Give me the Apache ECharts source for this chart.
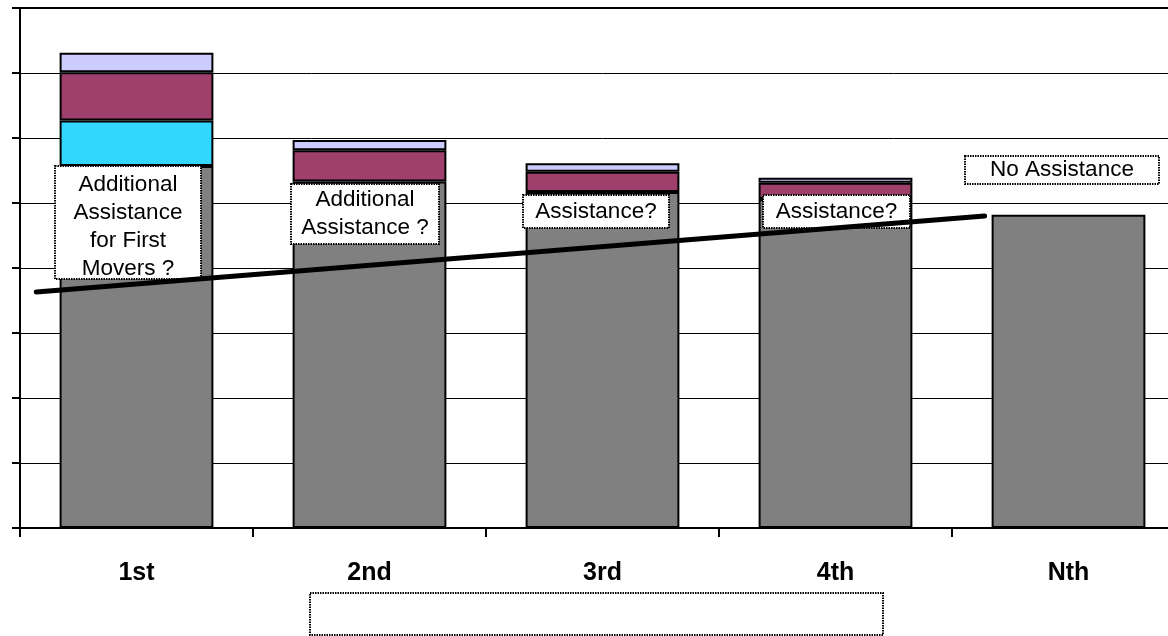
<!DOCTYPE html>
<html>
<head>
<meta charset="utf-8">
<script src="https://cdn.jsdelivr.net/npm/echarts@6/dist/echarts.min.js"></script>
<style>
  html, body { margin: 0; padding: 0; background: #fff; overflow: hidden; }
  #chart { width: 1190px; height: 636px; }
</style>
</head>
<body>
<div id="chart"></div>
<script>
// categories on the x axis
const categories = ['1st', '2nd', '3rd', '4th', 'Nth'];

// stacked bar segments (bottom to top)
const baseValues = [5.57, 5.33, 5.17, 5.06, 4.82];
const firstMoverValues = [0.70, null, null, null, null];
const assistValues = [0.74, 0.48, 0.31, 0.25, null];
const topValues = [0.30, 0.16, 0.13, 0.08, null];

// trend line, x in category units (0 = centre of 1st)
const trendLine = [[-0.43, 3.63], [3.64, 4.80]];

// annotation boxes
const noteTexts = [
    'Additional\nAssistance\nfor First\nMovers ?',
    'Additional\nAssistance ?',
    'Assistance?',
    'Assistance?',
    'No Assistance',
    ''
];
const noteBoxes = [
    [55, 166, 146, 113],
    [291, 184, 148, 60],
    [523, 195, 146, 33],
    [763, 195, 147, 33],
    [965, 156, 194, 28],
    [310, 593, 573, 42]
];

const font = '"Liberation Sans", Arial, sans-serif';
const chart = echarts.init(document.getElementById('chart'));

// build graphic elements for annotation boxes
const graphics = [];
noteBoxes.forEach((b, i) => {
    graphics.push({
        type: 'rect',
        z: 50,
        shape: { x: b[0], y: b[1], width: b[2], height: b[3] },
        style: { fill: i == 5 ? 'transparent' : '#fff', stroke: '#000', lineWidth: 2, lineDash: [1.5, 1] }
    });
    if (noteTexts[i]) {
        graphics.push({
            type: 'text',
            z: 51,
            x: b[0] + b[2] / 2,
            y: b[1] + b[3] / 2 + (i == 0 ? 4 : 0),
            style: {
                text: noteTexts[i],
                fill: '#000',
                font: '22.5px ' + font,
                lineHeight: 28,
                align: 'center',
                verticalAlign: 'middle'
            }
        });
    }
});

const barStyle = (color) => ({ color: color, borderColor: '#000', borderWidth: 2 });

const option = {
    animation: false,
    backgroundColor: '#fff',
    grid: { left: 20, top: 8, width: 1165, height: 520 },
    xAxis: [{
        type: 'category',
        data: categories,
        axisLine: { show: true, onZero: false, lineStyle: { color: '#000', width: 2 } },
        axisTick: { show: true, length: 9, lineStyle: { color: '#000', width: 2 } },
        axisLabel: { color: '#000', fontFamily: font, fontWeight: 'bold', fontSize: 25, margin: 33 },
        splitLine: { show: false }
    }, {
        // hidden value axis used for the trend line, also draws the top frame
        type: 'value',
        position: 'top',
        min: -0.5,
        max: 4.5,
        axisLine: { show: true, onZero: false, lineStyle: { color: '#000', width: 2 } },
        axisTick: { show: false },
        axisLabel: { show: false },
        splitLine: { show: false }
    }],
    yAxis: {
        type: 'value',
        min: 0,
        max: 8,
        interval: 1,
        axisLine: { show: true, onZero: false, lineStyle: { color: '#000', width: 2 } },
        axisTick: { show: true, length: 8, lineStyle: { color: '#000', width: 2 } },
        axisLabel: { show: false },
        splitLine: { lineStyle: { color: '#000', width: 1 } }
    },
    series: [
        { type: 'bar', stack: 'a', data: baseValues, barCategoryGap: '34%', itemStyle: barStyle('#808080') },
        { type: 'bar', stack: 'a', data: firstMoverValues, itemStyle: barStyle('#33D6FF') },
        { type: 'bar', stack: 'a', data: assistValues, itemStyle: barStyle('#9E3F6C') },
        { type: 'bar', stack: 'a', data: topValues, itemStyle: barStyle('#CCCCFF') },
        {
            type: 'line',
            xAxisIndex: 1,
            data: trendLine,
            z: 100,
            showSymbol: false,
            symbol: 'none',
            lineStyle: { color: '#000', width: 5, cap: 'round' }
        }
    ],
    graphic: graphics
};

chart.setOption(option);
</script>
</body>
</html>
